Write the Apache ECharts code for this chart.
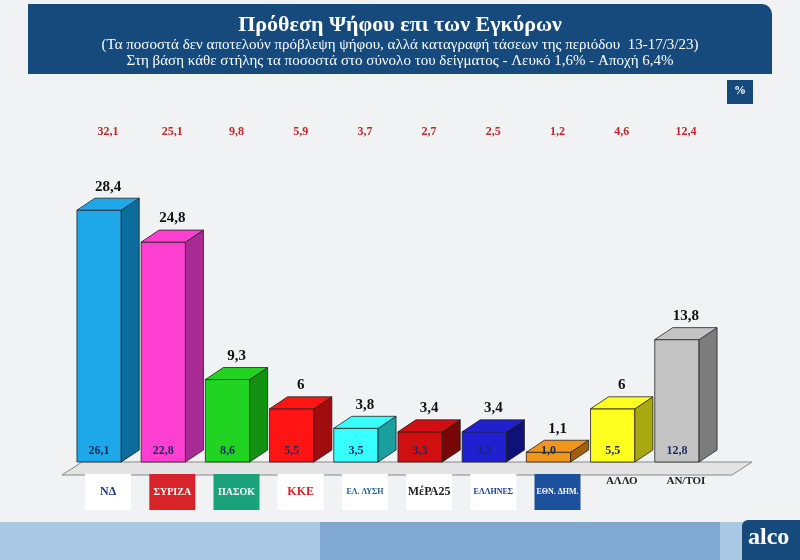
<!DOCTYPE html>
<html><head><meta charset="utf-8">
<script src="https://cdn.jsdelivr.net/npm/echarts@6/dist/echarts.min.js"></script>
<style>body{margin:0;background:#f1f2f4}#c{width:800px;height:560px}</style></head>
<body><div id="c"></div>
<script>
const categories=['ΝΔ','ΣΥΡΙΖΑ','ΠΑΣΟΚ','ΚΚΕ','ΕΛΛΗΝΙΚΗ ΛΥΣΗ','ΜέΡΑ25','ΕΛΛΗΝΕΣ','ΕΘΝΙΚΗ ΔΗΜΟΚΡΑΤΙΑ','ΑΛΛΟ','ΑΝ/ΤΟΙ'];
const validVotes=[28.4,24.8,9.3,6,3.8,3.4,3.4,1.1,6,13.8];
const sampleVotes=[26.1,22.8,8.6,5.5,3.5,3.3,3.3,1.0,5.5,12.8];
const estimate=['32,1','25,1','9,8','5,9','3,7','2,7','2,5','1,2','4,6','12,4'];
const front=['#1ea8ea','#ff3fd2','#22d422','#ff1414','#38ffff','#d01010','#2020d0','#f0961e','#ffff20','#c4c4c4'];
const side=['#0c6c9c','#a82a94','#119011','#a00c0c','#1a9e9e','#780606','#10107a','#a06010','#a8a810','#7c7c7c'];
const logoLabel=['ΝΔ','ΣΥΡΙΖΑ','ΠΑΣΟΚ','ΚΚΕ','ΕΛ. ΛΥΣΗ','ΜέΡΑ25','ΕΛΛΗΝΕΣ','ΕΘΝ. ΔΗΜ.','ΑΛΛΟ','ΑΝ/ΤΟΙ'];
const logoBg=['#ffffff','#d8232a','#1aa37a','#ffffff','#ffffff','#ffffff','#ffffff','#1c4f9c','transparent','transparent'];
const logoFg=['#1a3c8c','#ffffff','#ffffff','#d8232a','#2a5a9a','#222222','#1a3c8c','#ffffff','#222222','#222222'];
const fmt=v=>String(v).replace('.',',');
const chart=echarts.init(document.getElementById('c'));
const D=18,H=12;
const rich={};
logoLabel.forEach((t,i)=>{rich['l'+i]={backgroundColor:logoBg[i],color:logoFg[i],fontSize:i>7?11:(i==4||i==7||i==6?8:(i==1||i==2?10:12)),fontWeight:'bold',width:i>7?50:46,height:i>7?14:36,align:'center',lineHeight:i>7?14:36,fontFamily:'Liberation Serif'};});
chart.setOption({
 backgroundColor:'#f1f2f4',
 graphic:[
  {type:'rect',shape:{x:28,y:4,width:744,height:70,r:[0,10,0,0]},style:{fill:'#164a7c'}},
  {type:'text',left:'center',top:14,style:{text:'Πρόθεση Ψήφου επι των Εγκύρων',fill:'#fff',font:'bold 22px Liberation Serif'}},
  {type:'text',left:'center',top:38,style:{text:'(Τα ποσοστά δεν αποτελούν πρόβλεψη ψήφου, αλλά καταγραφή τάσεων της περιόδου  13-17/3/23)',fill:'#fff',font:'15px Liberation Serif'}},
  {type:'text',left:'center',top:54,style:{text:'Στη βάση κάθε στήλης τα ποσοστά στο σύνολο του δείγματος - Λευκό 1,6% - Αποχή 6,4%',fill:'#fff',font:'15px Liberation Serif'}},
  {type:'rect',shape:{x:727,y:80,width:26,height:24},style:{fill:'#164a7c'}},
  {type:'text',x:734,y:85,style:{text:'%',fill:'#fff',font:'bold 12px Liberation Serif'}},
  {type:'rect',shape:{x:0,y:522,width:800,height:38},style:{fill:'#a8c8e4'}},
  {type:'rect',shape:{x:320,y:522,width:400,height:38},style:{fill:'#7fa8d2'}},
  {type:'rect',shape:{x:742,y:520,width:58,height:40,r:[6,0,0,0]},style:{fill:'#164a7c'}},
  {type:'text',x:748,y:526,style:{text:'alco',fill:'#fff',font:'bold 24px Liberation Serif'}},
  {type:'polygon',shape:{points:[[62,475],[732,475],[752,462],[82,462]]},style:{fill:'#e4e4e4',stroke:'#888',lineWidth:1}}
 ],
 grid:{left:76,right:82,top:196,bottom:98},
 xAxis:[
  {type:'category',data:categories,axisTick:{show:false},axisLine:{show:false},
   axisLabel:{interval:0,margin:12,formatter:(v,i)=>'{l'+i+'|'+logoLabel[i]+'}',rich}},
  {type:'category',data:estimate,position:'top',offset:50,axisTick:{show:false},axisLine:{show:false},
   axisLabel:{interval:0,color:'#c0282a',fontWeight:'bold',fontSize:12,fontFamily:'Liberation Serif'}}
 ],
 yAxis:{type:'value',min:0,max:30,show:false,splitLine:{show:false}},
 series:[{type:'custom',data:validVotes.map((v,i)=>[i,v,sampleVotes[i]]),
  renderItem:(p,api)=>{
   const i=api.value(0),v=api.value(1);
   const top=api.coord([i,v]),bot=api.coord([i,0]);
   const w=api.size([1,0])[0]*0.69;
   const x0=top[0]-w/2-D/2,x1=x0+w,y0=top[1],y1=bot[1];
   return {type:'group',children:[
    {type:'rect',shape:{x:x0,y:y0,width:w,height:y1-y0},style:{fill:front[i],stroke:'#222',lineWidth:0.8}},
    {type:'polygon',shape:{points:[[x1,y0],[x1+D,y0-H],[x1+D,y1-H],[x1,y1]]},style:{fill:side[i],stroke:'#222',lineWidth:0.8}},
    {type:'polygon',shape:{points:[[x0,y0],[x0+D,y0-H],[x1+D,y0-H],[x1,y0]]},style:{fill:front[i],stroke:'#222',lineWidth:0.8}},
    {type:'text',style:{text:fmt(v),x:(x0+x1)/2+D/2,y:y0-H-4,align:'center',verticalAlign:'bottom',fill:'#111',font:'bold 15px Liberation Serif'}},
    {type:'text',style:{text:fmt(api.value(2).toFixed(1)),x:(x0+x1)/2,y:y1-5,align:'center',verticalAlign:'bottom',fill:'#1a2a5a',font:'bold 12px Liberation Serif'}}
   ]};
  }}]
});
</script></body></html>
